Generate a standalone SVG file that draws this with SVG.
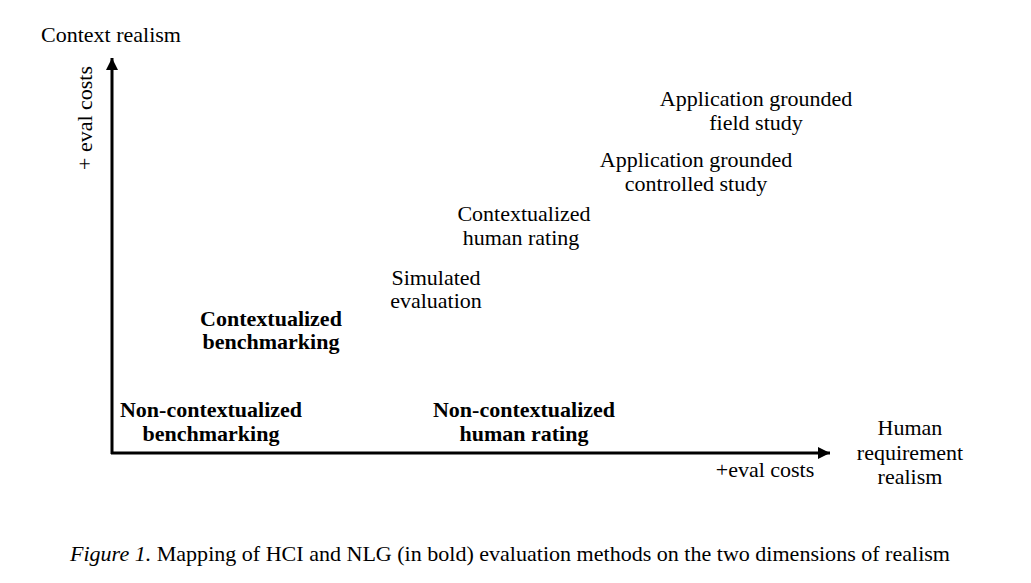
<svg xmlns="http://www.w3.org/2000/svg" width="1031" height="583" viewBox="0 0 1031 583">
<style>
text{font-family:"Liberation Serif","DejaVu Serif",serif;font-size:22px;fill:#000}
.c{text-anchor:middle}
.b{font-weight:bold}
.cap{font-size:21px}
.ax{stroke:#000;stroke-width:3;fill:none}
</style>
<defs>
<marker id="arr" viewBox="0 0 10 10" refX="10" refY="5" markerWidth="12" markerHeight="12" orient="auto" markerUnits="userSpaceOnUse">
<path d="M0,0 L10,5 L0,10 Z" fill="#000"/>
</marker>
</defs>
<rect width="1031" height="583" fill="#fff"/>
<g id="connectors">
<line class="ax" x1="112" y1="454" x2="112" y2="58" marker-end="url(#arr)"/>
<line class="ax" x1="111" y1="453" x2="830" y2="453" marker-end="url(#arr)"/>
</g>
<g id="axis-y-label"><text x="41" y="42">Context realism</text></g>
<g id="axis-y-cost"><text class="c" transform="translate(92,118) rotate(-90)">+ eval costs</text></g>
<g id="axis-x-cost"><text class="c" x="765" y="477">+eval costs</text></g>
<g id="axis-x-label"><text class="c" x="910" y="435">Human</text><text class="c" x="910" y="460">requirement</text><text class="c" x="910" y="484">realism</text></g>
<g id="n-field"><text class="c" x="756" y="106">Application grounded</text><text class="c" x="756" y="130">field study</text></g>
<g id="n-controlled"><text class="c" x="696" y="167">Application grounded</text><text class="c" x="696" y="191">controlled study</text></g>
<g id="n-ctx-human"><text class="c" x="524" y="221">Contextualized</text><text class="c" x="521" y="245">human rating</text></g>
<g id="n-simulated"><text class="c" x="436" y="285">Simulated</text><text class="c" x="436" y="308">evaluation</text></g>
<g id="n-ctx-bench"><text class="c b" x="271" y="326">Contextualized</text><text class="c b" x="271" y="349">benchmarking</text></g>
<g id="n-nonctx-bench"><text class="c b" x="211" y="417">Non-contextualized</text><text class="c b" x="211" y="441">benchmarking</text></g>
<g id="n-nonctx-human"><text class="c b" x="524" y="417">Non-contextualized</text><text class="c b" x="524" y="441">human rating</text></g>
<g id="caption"><text class="cap" x="70" y="561" textLength="880" lengthAdjust="spacingAndGlyphs"><tspan font-style="italic">Figure 1.</tspan> Mapping of HCI and NLG (in bold) evaluation methods on the two dimensions of realism</text></g>
</svg>
